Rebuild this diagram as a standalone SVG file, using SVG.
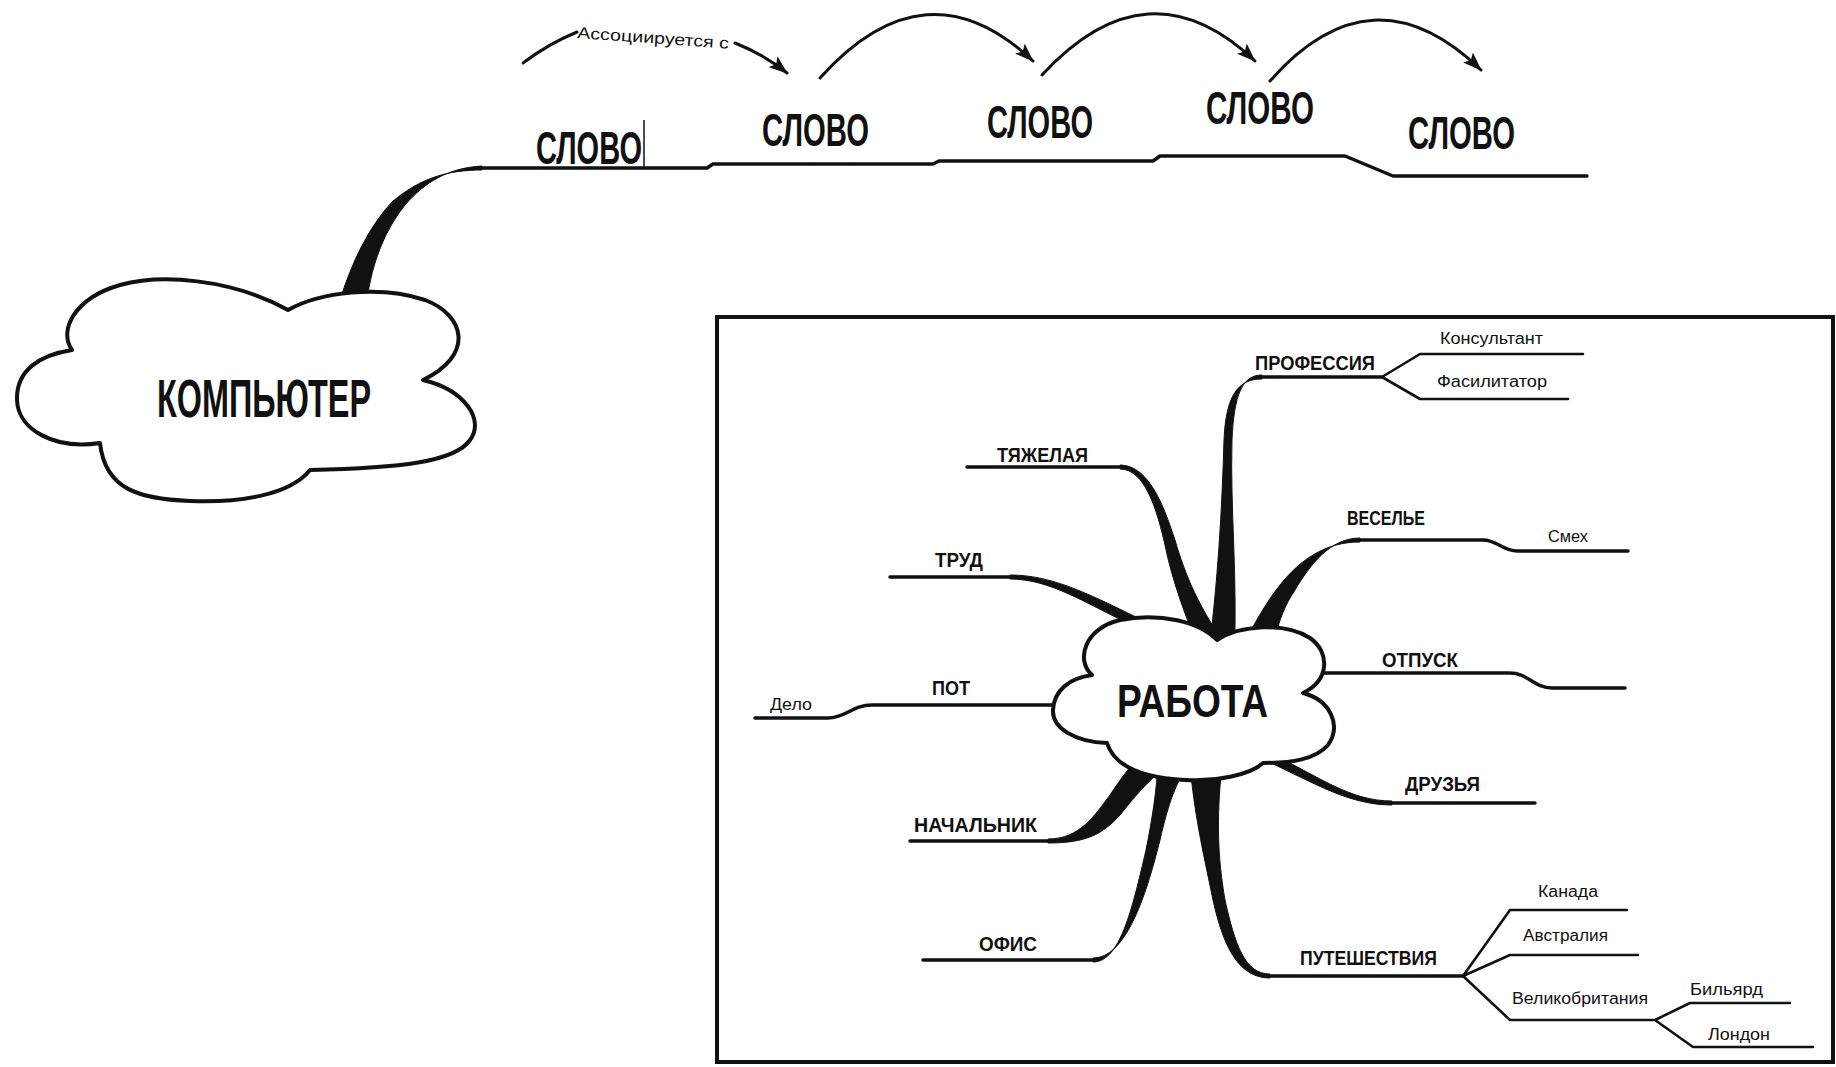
<svg xmlns="http://www.w3.org/2000/svg" width="1836" height="1067" viewBox="0 0 1836 1067">
<defs>
<marker id="ah" markerUnits="userSpaceOnUse" markerWidth="20" markerHeight="14" refX="18" refY="7" orient="auto">
<path d="M0,0 L19,7 L0,14 L4,7 Z" fill="#111"/>
</marker>
</defs>
<style>
.ln{fill:none;stroke:#111;stroke-width:3.5;stroke-linecap:round;stroke-linejoin:round}
.th{fill:none;stroke:#111;stroke-width:2.6;stroke-linecap:round;stroke-linejoin:round}
.ar{fill:none;stroke:#111;stroke-width:3;stroke-linecap:round}
.tp{fill:#111;stroke:#111;stroke-width:1;stroke-linejoin:round}
.cloud{fill:#fff;stroke:#111;stroke-width:4;stroke-linejoin:round}
.big{font-family:"Liberation Sans",Arial,sans-serif;font-weight:bold;fill:#111}
.lab{font-family:"Liberation Sans",Arial,sans-serif;font-weight:bold;font-size:21px;fill:#111}
.sm{font-family:"Liberation Sans",Arial,sans-serif;font-size:16px;fill:#111}
</style>
<rect width="1836" height="1067" fill="#fff"/>
<rect x="717" y="317" width="1116" height="745" fill="none" stroke="#111" stroke-width="4"/>

<g id="connectors">
<!-- top chain -->
<path class="tp" d="M482,166 C448,168 425,182 405,205 C385,230 372,262 367,300 L340,300 C352,262 368,228 392,202 C420,178 448,170 482,170 Z"/>
<path class="ln" d="M478,168 H707 L713,164 H933 L939,161 H1153 L1160,156 H1345 L1393,176 H1587"/>
<line x1="644" y1="120" x2="644" y2="168" stroke="#111" stroke-width="1.5"/>
<path class="ar" d="M523,63 Q548,44 577,32"/>
<path class="ar" d="M735,43 Q765,55 787,73" marker-end="url(#ah)"/>
<path class="ar" d="M820,78 Q926,-40 1033,61" marker-end="url(#ah)"/>
<path class="ar" d="M1042,75 Q1148,-40 1255,61" marker-end="url(#ah)"/>
<path class="ar" d="M1270,81 Q1372,-35 1481,70" marker-end="url(#ah)"/>

<!-- mind map branches -->
<path class="ln" d="M967,467 H1122"/>
<path class="tp" d="M1120,465 C1150,465 1165,510 1175,540 C1185,575 1200,610 1228,648 L1200,652 C1185,615 1172,580 1165,545 C1157,510 1145,469 1120,469 Z"/>
<path class="ln" d="M890,577 H1012"/>
<path class="tp" d="M1010,575 C1050,575 1085,592 1136,617 L1132,625 C1085,603 1050,579 1010,579 Z"/>
<path class="ln" d="M755,718 H828 C846,718 852,705 872,705 H1065"/>
<path class="ln" d="M910,841 H1050"/>
<path class="tp" d="M1048,839 C1080,839 1095,815 1110,795 C1120,780 1130,765 1145,752 L1165,768 C1148,780 1132,800 1120,815 C1102,835 1085,843 1048,843 Z"/>
<path class="ln" d="M923,960 H1095"/>
<path class="tp" d="M1093,958 C1125,958 1145,900 1160,840 C1168,805 1176,780 1192,760 L1158,760 C1157,790 1152,820 1146,850 C1132,910 1120,962 1093,962 Z"/>
<path class="ln" d="M1268,976 H1463"/>
<path class="tp" d="M1270,974 C1245,974 1235,945 1225,900 C1218,860 1216,820 1222,765 L1190,765 C1195,820 1205,860 1213,900 C1224,950 1240,978 1270,978 Z"/>
<path class="ln" d="M1260,377 H1382"/>
<path class="tp" d="M1262,375 C1242,375 1234,395 1232,440 C1230,510 1238,580 1234,660 L1208,660 C1218,580 1222,510 1224,440 C1226,395 1238,379 1262,379 Z"/>
<path class="ln" d="M1357,540 H1483 C1497,540 1503,551 1517,551 H1628"/>
<path class="tp" d="M1360,538 C1330,538 1310,565 1295,590 C1285,605 1279,620 1274,642 L1245,642 C1256,620 1268,600 1280,585 C1300,560 1325,542 1360,542 Z"/>
<path class="ln" d="M1315,673 H1510 C1528,673 1534,688 1552,688 H1625"/>
<path class="ln" d="M1390,803 H1535"/>
<path class="tp" d="M1392,801 C1350,801 1320,777 1270,753 L1267,761 C1316,784 1350,805 1392,805 Z"/>
<!-- sub-branches -->
<path class="th" d="M1382,377 L1420,354 H1583 M1382,377 L1420,399 H1568"/>
<path class="th" d="M1463,976 L1510,910 H1627 M1463,976 L1510,955 H1638 M1463,976 L1510,1020 H1655 L1690,1003 H1790 M1655,1020 L1693,1047 H1813"/>
</g>

<g id="node-kompyuter">
<path class="cloud" d="M72,350 C58,330 75,298 120,285 C160,274 230,278 288,310 C320,292 380,285 425,300 C465,315 475,355 423,380 C465,390 485,420 470,440 C455,462 400,468 310,470 C290,495 240,503 190,501 C140,499 105,490 100,443 C55,450 18,430 17,400 C16,370 40,355 72,350 Z"/>
<text class="big" x="157" y="417" font-size="54" textLength="214" lengthAdjust="spacingAndGlyphs">КОМПЬЮТЕР</text>
</g>
<g id="label-assoc"><text class="sm" x="577" y="38" font-size="17" textLength="152" lengthAdjust="spacingAndGlyphs" transform="rotate(4 577 38)">Ассоциируется с</text></g>
<g id="node-slovo1"><text class="big" x="536" y="164" font-size="46" textLength="106" lengthAdjust="spacingAndGlyphs">СЛОВО</text></g>
<g id="node-slovo2"><text class="big" x="762" y="146" font-size="46" textLength="107" lengthAdjust="spacingAndGlyphs">СЛОВО</text></g>
<g id="node-slovo3"><text class="big" x="987" y="138" font-size="46" textLength="106" lengthAdjust="spacingAndGlyphs">СЛОВО</text></g>
<g id="node-slovo4"><text class="big" x="1206" y="124" font-size="46" textLength="108" lengthAdjust="spacingAndGlyphs">СЛОВО</text></g>
<g id="node-slovo5"><text class="big" x="1408" y="149" font-size="46" textLength="107" lengthAdjust="spacingAndGlyphs">СЛОВО</text></g>

<g id="node-rabota">
<path class="cloud" d="M1092,675 C1075,660 1085,628 1120,620 C1160,612 1200,622 1217,640 C1240,625 1285,622 1310,638 C1330,652 1330,680 1303,693 C1330,700 1342,725 1328,745 C1315,760 1290,763 1263,763 C1250,775 1215,782 1185,780 C1145,778 1115,768 1107,743 C1075,742 1052,728 1053,710 C1054,690 1070,678 1092,675 Z"/>
<text class="big" x="1117" y="717" font-size="47" textLength="151" lengthAdjust="spacingAndGlyphs">РАБОТА</text>
</g>
<g id="node-tyazhelaya"><text class="lab" x="997" y="462" textLength="91" lengthAdjust="spacingAndGlyphs">ТЯЖЕЛАЯ</text></g>
<g id="node-trud"><text class="lab" x="935" y="567" textLength="48" lengthAdjust="spacingAndGlyphs">ТРУД</text></g>
<g id="node-pot"><text class="lab" x="932" y="695" textLength="38" lengthAdjust="spacingAndGlyphs">ПОТ</text></g>
<g id="node-delo"><text class="sm" x="770" y="710" textLength="42" lengthAdjust="spacingAndGlyphs">Дело</text></g>
<g id="node-nachalnik"><text class="lab" x="914" y="832" textLength="123" lengthAdjust="spacingAndGlyphs">НАЧАЛЬНИК</text></g>
<g id="node-ofis"><text class="lab" x="979" y="951" textLength="58" lengthAdjust="spacingAndGlyphs">ОФИС</text></g>
<g id="node-professiya"><text class="lab" x="1255" y="370" textLength="120" lengthAdjust="spacingAndGlyphs">ПРОФЕССИЯ</text></g>
<g id="node-konsultant"><text class="sm" x="1440" y="344" textLength="103" lengthAdjust="spacingAndGlyphs">Консультант</text></g>
<g id="node-fasilitator"><text class="sm" x="1437" y="387" textLength="110" lengthAdjust="spacingAndGlyphs">Фасилитатор</text></g>
<g id="node-vesele"><text class="lab" x="1347" y="525" textLength="78" lengthAdjust="spacingAndGlyphs">ВЕСЕЛЬЕ</text></g>
<g id="node-smekh"><text class="sm" x="1548" y="542" textLength="40" lengthAdjust="spacingAndGlyphs">Смех</text></g>
<g id="node-otpusk"><text class="lab" x="1382" y="667" textLength="76" lengthAdjust="spacingAndGlyphs">ОТПУСК</text></g>
<g id="node-druzya"><text class="lab" x="1405" y="791" textLength="75" lengthAdjust="spacingAndGlyphs">ДРУЗЬЯ</text></g>
<g id="node-puteshestviya"><text class="lab" x="1300" y="965" textLength="137" lengthAdjust="spacingAndGlyphs">ПУТЕШЕСТВИЯ</text></g>
<g id="node-kanada"><text class="sm" x="1538" y="897" textLength="60" lengthAdjust="spacingAndGlyphs">Канада</text></g>
<g id="node-avstraliya"><text class="sm" x="1523" y="941" textLength="85" lengthAdjust="spacingAndGlyphs">Австралия</text></g>
<g id="node-velikobritaniya"><text class="sm" x="1512" y="1004" textLength="136" lengthAdjust="spacingAndGlyphs">Великобритания</text></g>
<g id="node-bilyard"><text class="sm" x="1690" y="995" textLength="73" lengthAdjust="spacingAndGlyphs">Бильярд</text></g>
<g id="node-london"><text class="sm" x="1708" y="1040" textLength="62" lengthAdjust="spacingAndGlyphs">Лондон</text></g>
</svg>
